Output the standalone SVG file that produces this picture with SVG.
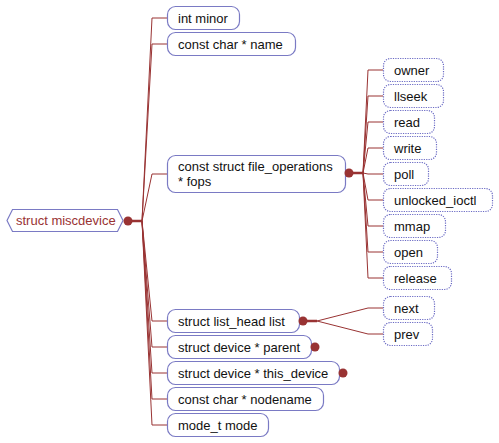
<svg xmlns="http://www.w3.org/2000/svg" width="499" height="443" viewBox="0 0 499 443">
<style>
text{font-family:"Liberation Sans",Arial,sans-serif;font-size:13px;fill:#111}
.n{fill:#fff;stroke:#7a7ac4;stroke-width:1.2}
.d{fill:#fff;stroke:#6a6ac4;stroke-width:1.2;stroke-dasharray:1.2 1.2}
.c{fill:none;stroke:#993333;stroke-width:1}
.t{fill:none;stroke:#993333;stroke-width:2.5}
.dot{fill:#993333}
</style>
<g id="connectors">
<line class="t" x1="128" y1="221" x2="142" y2="221"/>
<polyline class="c" points="142,221 152,18 167,18"/>
<polyline class="c" points="142,221 152,44 167,44"/>
<polyline class="c" points="142,221 152,174 167,174"/>
<polyline class="c" points="142,221 152,321 167,321"/>
<polyline class="c" points="142,221 152,347 167,347"/>
<polyline class="c" points="142,221 152,373 167,373"/>
<polyline class="c" points="142,221 152,399 167,399"/>
<polyline class="c" points="142,221 152,425 167,425"/>
<line class="t" x1="349" y1="173" x2="363" y2="173"/>
<polyline class="c" points="363,173 368,70 383,70"/>
<polyline class="c" points="363,173 368,96 383,96"/>
<polyline class="c" points="363,173 368,122 383,122"/>
<polyline class="c" points="363,173 368,148 383,148"/>
<polyline class="c" points="363,173 368,174 383,174"/>
<polyline class="c" points="363,173 368,200 383,200"/>
<polyline class="c" points="363,173 368,226 383,226"/>
<polyline class="c" points="363,173 368,252 383,252"/>
<polyline class="c" points="363,173 368,278 383,278"/>
<line class="t" x1="303" y1="321" x2="317" y2="321"/>
<polyline class="c" points="317,321 368,308 383,308"/>
<polyline class="c" points="317,321 368,334 383,334"/>
</g>
<g id="root">
<polygon points="7,220.5 12.5,209.5 117.5,209.5 123,220.5 117.5,231.5 12.5,231.5" fill="#fff" stroke="#7a7ac4" stroke-width="1.2"/>
<text x="16" y="225" style="fill:#993333">struct miscdevice</text>
<circle class="dot" cx="128" cy="221" r="4.5"/>
</g>
<g id="minor"><rect class="n" x="167.5" y="6.5" width="72" height="23" rx="8"/><text x="178" y="23">int minor</text></g>
<g id="name"><rect class="n" x="167.5" y="32.5" width="128" height="23" rx="8"/><text x="178" y="49">const char * name</text></g>
<g id="fops"><rect class="n" x="167.5" y="155.5" width="178" height="37" rx="8"/><text x="178" y="171">const struct file_operations</text><text x="178" y="186">* fops</text><circle class="dot" cx="349" cy="173" r="4.5"/></g>
<g id="list"><rect class="n" x="167.5" y="309.5" width="132" height="23" rx="8"/><text x="178" y="326">struct list_head list</text><circle class="dot" cx="303" cy="321" r="4.5"/></g>
<g id="parent"><rect class="n" x="167.5" y="335.5" width="144" height="23" rx="8"/><text x="178" y="352">struct device * parent</text><circle class="dot" cx="315" cy="347" r="4.5"/></g>
<g id="this_device"><rect class="n" x="167.5" y="361.5" width="172" height="23" rx="8"/><text x="178" y="378">struct device * this_device</text><circle class="dot" cx="343" cy="373" r="4.5"/></g>
<g id="nodename"><rect class="n" x="167.5" y="387.5" width="156" height="23" rx="8"/><text x="178" y="404">const char * nodename</text></g>
<g id="mode"><rect class="n" x="167.5" y="413.5" width="101" height="23" rx="8"/><text x="178" y="430">mode_t mode</text></g>
<g id="owner"><rect class="d" x="383.5" y="58.5" width="60" height="23" rx="7"/><text x="394" y="75">owner</text></g>
<g id="llseek"><rect class="d" x="383.5" y="84.5" width="60" height="23" rx="7"/><text x="394" y="101">llseek</text></g>
<g id="read"><rect class="d" x="383.5" y="110.5" width="51" height="23" rx="7"/><text x="394" y="127">read</text></g>
<g id="write"><rect class="d" x="383.5" y="136.5" width="53" height="23" rx="7"/><text x="394" y="153">write</text></g>
<g id="poll"><rect class="d" x="383.5" y="162.5" width="45" height="23" rx="7"/><text x="394" y="179">poll</text></g>
<g id="unlocked_ioctl"><rect class="d" x="383.5" y="188.5" width="109" height="23" rx="7"/><text x="394" y="205">unlocked_ioctl</text></g>
<g id="mmap"><rect class="d" x="383.5" y="214.5" width="62" height="23" rx="7"/><text x="394" y="231">mmap</text></g>
<g id="open"><rect class="d" x="383.5" y="240.5" width="54" height="23" rx="7"/><text x="394" y="257">open</text></g>
<g id="release"><rect class="d" x="383.5" y="266.5" width="68" height="23" rx="7"/><text x="394" y="283">release</text></g>
<g id="next"><rect class="d" x="383.5" y="296.5" width="51" height="23" rx="7"/><text x="394" y="313">next</text></g>
<g id="prev"><rect class="d" x="383.5" y="322.5" width="49" height="23" rx="7"/><text x="394" y="339">prev</text></g>
</svg>
